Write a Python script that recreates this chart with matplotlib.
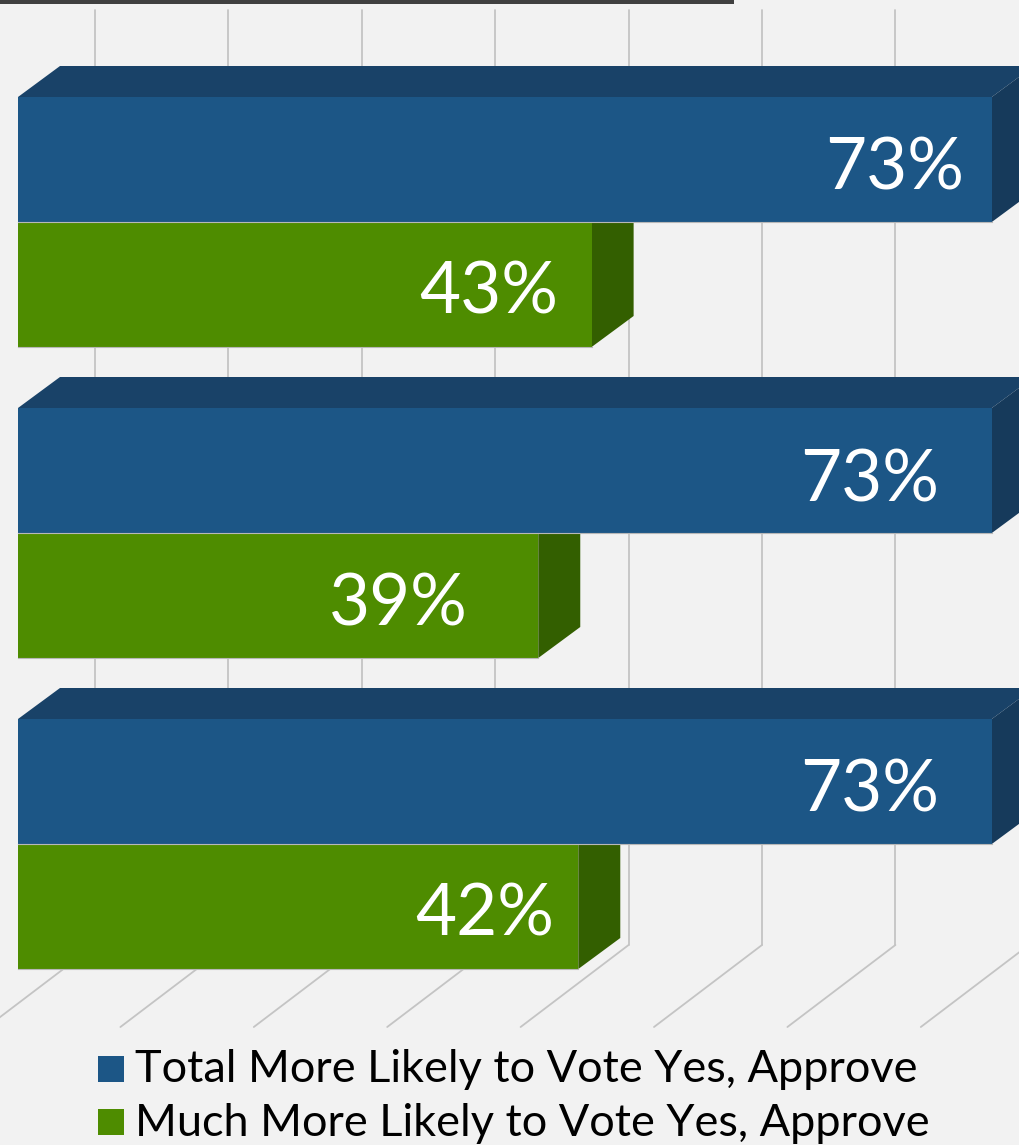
import matplotlib
matplotlib.use("Agg")
import matplotlib.pyplot as plt
from matplotlib.patches import Polygon, Rectangle

# ── Data ──────────────────────────────────────────────────────
total_pct = [73, 73, 73]
much_pct = [43, 39, 42]
series_names = [
    "Total More Likely to Vote Yes, Approve",
    "Much More Likely to Vote Yes, Approve",
]
grid_pct = [0, 10, 20, 30, 40, 50, 60, 70]

# ── Layout (pixel space) ──────────────────────────────────────
W, H = 1020, 1145
X0 = 18            # 0% on the front plane
PX_PER_PCT = 13.34
DEPTH = (42, -31)  # bar depth offset
WALL_DX = 77       # back wall offset from the bar front plane
FLOOR_Y = 945
FLOOR_DEPTH = (-108, 82)
GROUP_TOP = 97
GROUP_STEP = 311
BAR_H = 125

BG = "#f2f2f2"
BLUE = {"front": "#1c5686", "top": "#194268", "side": "#163a5b"}
GREEN = {"front": "#4e8c00", "top": "#3e7000", "side": "#335f00"}
GRID = "#c4c4c4"

# label gaps from the bar end (px)
total_gap = [28, 53, 53]
much_gap = [33, 70, 24]


def px(v):
    return X0 + v * PX_PER_PCT


def draw_bar(ax, y_top, value, colors, show_top=True):
    x1 = px(value)
    y_bot = y_top + BAR_H
    dx, dy = DEPTH
    if show_top:
        ax.add_patch(Polygon([(X0, y_top), (X0 + dx, y_top + dy), (x1 + dx, y_top + dy), (x1, y_top)],
                             closed=True, facecolor=colors["top"], edgecolor="none", zorder=3))
    ax.add_patch(Polygon([(x1, y_top), (x1 + dx, y_top + dy), (x1 + dx, y_bot + dy), (x1, y_bot)],
                         closed=True, facecolor=colors["side"], edgecolor="none", zorder=3))
    ax.add_patch(Rectangle((X0, y_top), x1 - X0, BAR_H, facecolor=colors["front"],
                           edgecolor="none", zorder=4))
    ax.plot([X0, x1], [y_bot, y_bot], color="#b8b8b8", lw=0.8, zorder=4)
    return x1, (y_top + y_bot) / 2


fig = plt.figure(figsize=(W / 100, H / 100), dpi=100)
fig.patch.set_facecolor(BG)
ax = fig.add_axes([0, 0, 1, 1])
ax.set_xlim(0, W)
ax.set_ylim(H, 0)
ax.axis("off")

# dark rule across the top
ax.add_patch(Rectangle((0, 0), 734, 4, facecolor="#404040", edgecolor="none", zorder=2))

# back wall and floor gridlines
for g in grid_pct:
    xb = px(g) + WALL_DX
    ax.plot([xb, xb], [10, FLOOR_Y], color=GRID, lw=1.3, zorder=1, solid_capstyle="round")
    ax.plot([xb, xb + FLOOR_DEPTH[0]], [FLOOR_Y, FLOOR_Y + FLOOR_DEPTH[1]],
            color=GRID, lw=1.3, zorder=1, solid_capstyle="round")

label_font = dict(color="white", fontsize=51, family="Lato", ha="right", va="center", zorder=6)

for i, (t, m) in enumerate(zip(total_pct, much_pct)):
    y_top = GROUP_TOP + i * GROUP_STEP
    # green sits below the blue bar; blue front covers the green side's upper corner
    gx, gy = draw_bar(ax, y_top + BAR_H, m, GREEN, show_top=False)
    bx, by = draw_bar(ax, y_top, t, BLUE)
    ax.text(bx - total_gap[i], by + 10, f"{t}%", **label_font)
    ax.text(gx - much_gap[i], gy + 9, f"{m}%", **label_font)

# legend
for j, (name, col) in enumerate(zip(series_names, [BLUE["front"], GREEN["front"]])):
    y = 1056 + j * 53
    ax.add_patch(Rectangle((98, y), 26, 26, facecolor=col, edgecolor="none"))
    ax.text(135, y + 14, name, fontsize=32.5, family="Lato", color="black", va="center", ha="left")

fig.savefig("out.png", dpi=100, facecolor=BG)
